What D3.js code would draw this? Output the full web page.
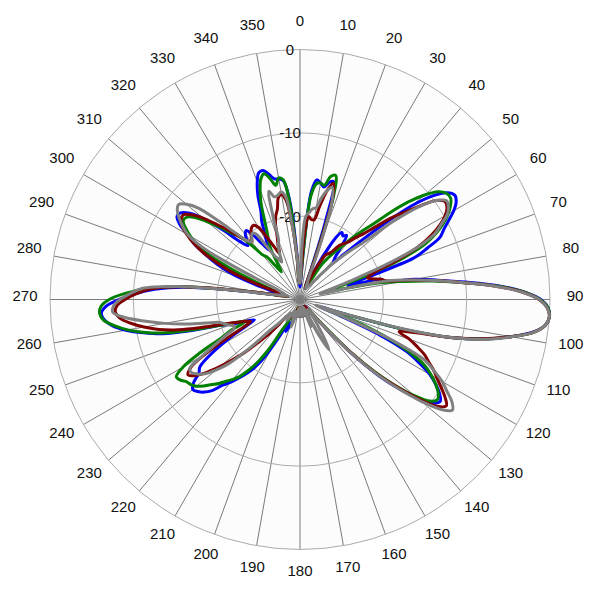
<!DOCTYPE html>
<html><head><meta charset="utf-8">
<script src="https://cdn.jsdelivr.net/npm/d3@7"></script>
<style>
body{margin:0;background:#fff}
svg{display:block}
text{font-family:"Liberation Sans",Arial,sans-serif;font-size:15px;fill:#111}
</style>
</head><body>
<svg id="chart" width="600" height="600"></svg>
<script>
// ---------- data ----------
const angles = [
  0,2,4,6,8,10,12,14,16,18, 20,22,24,26,28,30,32,34,36,38,
  40,42,44,46,48,50,52,54,56,58, 60,62,64,66,68,70,72,74,76,78,
  80,82,84,86,88,90,92,94,96,98, 100,102,104,106,108,110,112,114,116,118,
  120,122,124,126,128,130,132,134,136,138, 140,142,144,146,148,150,152,154,156,158,
  160,162,164,166,168,170,172,174,176,178, 180,182,184,186,188,190,192,194,196,198,
  200,202,204,206,208,210,212,214,216,218, 220,222,224,226,228,230,232,234,236,238,
  240,242,244,246,248,250,252,254,256,258, 260,262,264,266,268,270,272,274,276,278,
  280,282,284,286,288,290,292,294,296,298, 300,302,304,306,308,310,312,314,316,318,
  320,322,324,326,328,330,332,334,336,338, 340,342,344,346,348,350,352,354,356,358
];

const blueSeries = [
  -28.5,-28,-24,-17,-15.5,-15.8,-16.2,-15.5,-15.3,-20,
  -26,-28,-28.5,-27,-24,-21.5,-20.5,-20.8,-20.5,-22,
  -23.5,-24,-22.5,-20,-16.5,-12.5,-9.8,-8.2,-7.6,-7.9,
  -8.7,-9.8,-10.8,-11.6,-13.5,-15.5,-22,-24,-20,-19.5,
  -16,-13.3,-10,-6.2,-3.2,-1.1,-0.2,0,-0.4,-1.8,
  -4.3,-7.2,-11,-17,-24.5,-27.5,-25,-19.5,-15.8,-13.8,
  -12,-10.8,-9.8,-9.2,-9.8,-11.5,-14,-16.8,-20.5,-25,
  -28,-29,-28.5,-29,-28,-28.5,-29,-28,-29,-28.5,
  -29,-28,-28.5,-29,-28,-28.5,-29,-28,-28.5,-29,
  -28,-28.5,-29,-28,-28.5,-28,-28.5,-28,-28.5,-28,
  -27,-26.5,-25.8,-27,-26,-24,-21.5,-20,-19,-18,
  -17,-16.2,-14.8,-14,-13.5,-13.2,-13.8,-15,-15.5,-17,
  -19,-21,-23,-24,-23,-21.5,-20,-16.5,-13,-10.8,
  -8.8,-7.3,-6.4,-6.1,-6.7,-8.3,-10.2,-12.5,-16,-22,
  -26,-27.5,-28,-27,-25,-22,-20,-18.5,-17,-15.5,
  -14.5,-13,-12.2,-12.3,-13.2,-15,-17.5,-20,-21,-20.5,
  -19.8,-19.5,-20.5,-22,-23,-22,-21,-19.5,-18.5,-16.5,
  -15,-14,-13.9,-14.5,-15.2,-15.3,-15.6,-18,-24,-28
];

const greenSeries = [
  -28,-27.5,-24,-17.5,-16,-15.8,-16,-14.8,-14.5,-17,
  -25,-28,-28.5,-28.5,-28,-27,-25,-24,-23,-22,
  -20.5,-19,-17.5,-15,-12.5,-10.5,-9,-8.3,-8.2,-8.7,
  -9.5,-10.5,-11.8,-13.5,-16.5,-21,-25.5,-27,-25,-20.5,
  -17.5,-14,-10.5,-6.5,-3.2,-1.2,-0.2,0,-0.4,-1.7,
  -4.3,-7.2,-11,-17,-24.5,-27,-22,-18,-15,-13,
  -11.8,-10.8,-10,-9.6,-10.2,-12,-14.5,-17.5,-21,-26,
  -28.5,-28,-29,-28.5,-28,-29,-28.5,-28,-29,-28,
  -28.5,-29,-28,-28.5,-29,-28,-28.5,-29,-28,-28.5,
  -29,-28,-28.5,-29,-28,-28.5,-28,-29,-28.5,-28,
  -28.5,-28,-27.5,-28,-27,-26,-23,-21,-19.5,-18.3,
  -17.5,-16.8,-16,-15.3,-14.5,-13.8,-13.4,-13.2,-12.7,-12.5,
  -13.8,-16.5,-19.5,-21,-23,-22,-20,-17,-13.5,-11,
  -9,-7.5,-6.3,-5.9,-6.1,-7.1,-9,-11.6,-15,-21.5,
  -26,-28,-28.5,-28,-27,-26,-24,-21,-18,-16,
  -14.8,-13.8,-13.1,-13.2,-14,-15.5,-17,-18.5,-19.5,-21,
  -23,-23.5,-25,-26,-25,-23,-22,-21,-19.5,-17.5,
  -16,-14.8,-14.3,-15,-16,-15.2,-15.5,-18.5,-25,-28
];

const darkRedSeries = [
  -28,-27,-22,-20,-20.3,-20.3,-18.5,-16.5,-15.5,-17.5,
  -24,-28,-28.5,-27,-25,-23.8,-23.5,-23,-22,-21.5,
  -21,-20,-19,-17.5,-15.5,-13.8,-11.8,-9.8,-9,-9.2,
  -9.9,-11,-12.5,-14.5,-17.5,-20.5,-21.5,-21,-20,-19.3,
  -16.5,-13.7,-10.5,-6.6,-3.4,-1.3,-0.3,0,-0.4,-1.7,
  -4.3,-7.3,-11,-15.5,-17.5,-16,-14.8,-13.6,-12.8,-11.8,
  -11,-10,-9,-8.3,-9.2,-11.5,-14.3,-17.2,-20.8,-25,
  -28,-28.5,-29,-28,-28.5,-29,-28,-28.5,-29,-28,
  -28.5,-29,-28,-28.5,-29,-28,-28.5,-29,-28,-28.5,
  -29,-28,-28.5,-29,-28,-28.5,-29,-28,-28.5,-28,
  -28.5,-28,-28.5,-28,-27.5,-28,-27.5,-28,-27.5,-27.5,
  -26,-24.5,-23,-21,-19.3,-17.5,-15.8,-14.5,-13.8,-14.5,
  -16.8,-20,-22.5,-23.5,-23,-22,-20.5,-18,-15,-12.7,
  -11,-9.5,-8.3,-7.8,-8,-9,-10.3,-12,-15.5,-21.5,
  -26,-28,-28.5,-28,-27,-24,-21,-19,-17,-15.5,
  -14.3,-13.3,-12.8,-12.7,-13.5,-14.8,-16.5,-18,-19.5,-20.5,
  -21,-20.5,-20,-19.6,-19.5,-20,-21.5,-23,-24,-23,
  -22,-20.5,-19.5,-18.8,-17.5,-17.2,-18,-21,-25,-28
];

const graySeries = [
  -28,-24,-20,-19.5,-19,-18.8,-17.5,-16.5,-16,-17.5,
  -22.5,-27,-28,-28.5,-28,-28.5,-28,-28,-27.5,-27,
  -26,-24.5,-23,-21.5,-19.8,-15.5,-12,-9.8,-8.8,-9,
  -9.6,-10.8,-12,-14.5,-19,-24,-26.5,-27.5,-25,-19.3,
  -16.5,-13.6,-10.5,-6.7,-3.5,-1.3,-0.3,0,-0.4,-1.7,
  -4.2,-7,-11,-17.5,-25,-28,-24,-17.5,-13.3,-11.8,
  -10.3,-9.2,-8,-7.4,-8.6,-11,-13.8,-16.8,-20.5,-25,
  -28,-28.5,-27,-26,-24.5,-23,-25,-28,-29,-26.5,
  -28.5,-29,-28.5,-29,-28,-29,-28.5,-29,-28,-28.5,
  -29,-28,-28.5,-28,-29,-28,-28.5,-28,-27.5,-26.5,
  -28,-28.5,-28,-28.5,-28,-27.5,-27,-27.5,-28,-27.5,
  -27,-26,-25,-21.5,-18.5,-16.8,-15.5,-14.8,-14.3,-14.4,
  -16.5,-18.5,-20,-21.3,-21.5,-21,-20.5,-20,-18.3,-15.8,
  -13.5,-11.3,-9,-7.5,-7.6,-8.4,-9.6,-11,-15,-22,
  -26.5,-27.5,-28,-28.5,-28,-28,-27.5,-27,-23,-17,
  -14.5,-13.4,-12.5,-11.8,-11.5,-12.2,-13.6,-16.5,-19,-20.5,
  -21,-20.6,-20.2,-20.5,-22.5,-24,-24.5,-25,-24,-23,
  -22.5,-19.5,-16.5,-17.3,-17.2,-16.9,-17.5,-21,-25,-28
];

const angleTicks = [0,10,20,30,40,50,60,70,80,90,100,110,120,130,140,150,160,170,
  180,190,200,210,220,230,240,250,260,270,280,290,300,310,320,330,340,350];
const radialTicks = [0,-10,-20];
const seriesColors = ["#0000ff","#008000","#800000","#808080"];

// ---------- drawing ----------
const cx = 300, cy = 299.5, R = 250;
const rad = d => d * Math.PI / 180;
const r = d3.scaleLinear().domain([-30, 0]).range([0, R]).clamp(true);

const svg = d3.select("#chart");
const g = svg.append("g").attr("transform", `translate(${cx},${cy})`);

g.append("circle").attr("r", R).attr("fill", "#fcfcfc");

g.selectAll("line.spoke").data(angleTicks).join("line")
  .attr("class", "spoke")
  .attr("x1", 0).attr("y1", 0)
  .attr("x2", d => R * Math.sin(rad(d)))
  .attr("y2", d => -R * Math.cos(rad(d)))
  .attr("stroke", "#7a7a7a").attr("stroke-width", 1);

g.selectAll("circle.ring").data(radialTicks).join("circle")
  .attr("class", "ring")
  .attr("r", d => r(d))
  .attr("fill", "none")
  .attr("stroke", "#ababab").attr("stroke-width", 1);

g.selectAll("text.alab").data(angleTicks).join("text")
  .attr("class", "alab")
  .attr("x", d => 275 * Math.sin(rad(d)))
  .attr("y", d => -275 * Math.cos(rad(d)) - 4 + 5.4)
  .attr("text-anchor", "middle")
  .text(d => d);

g.selectAll("text.rlab").data(radialTicks).join("text")
  .attr("class", "rlab")
  .attr("x", -10)
  .attr("y", d => -r(d) + 5.4)
  .attr("text-anchor", "middle")
  .text(d => String(d));

const allSeries = [blueSeries, greenSeries, darkRedSeries, graySeries];
const line = d3.lineRadial()
  .angle(d => rad(d[0]))
  .radius(d => r(d[1]))
  .curve(d3.curveCatmullRomClosed.alpha(0.5));

allSeries.forEach((vals, i) => {
  const pts = angles.map((a, j) => [a, vals[j]]);
  g.append("path")
    .attr("d", line(pts))
    .attr("fill", "none")
    .attr("stroke", seriesColors[i])
    .attr("stroke-width", 3)
    .attr("stroke-linejoin", "round");
});
</script>
</body></html>
